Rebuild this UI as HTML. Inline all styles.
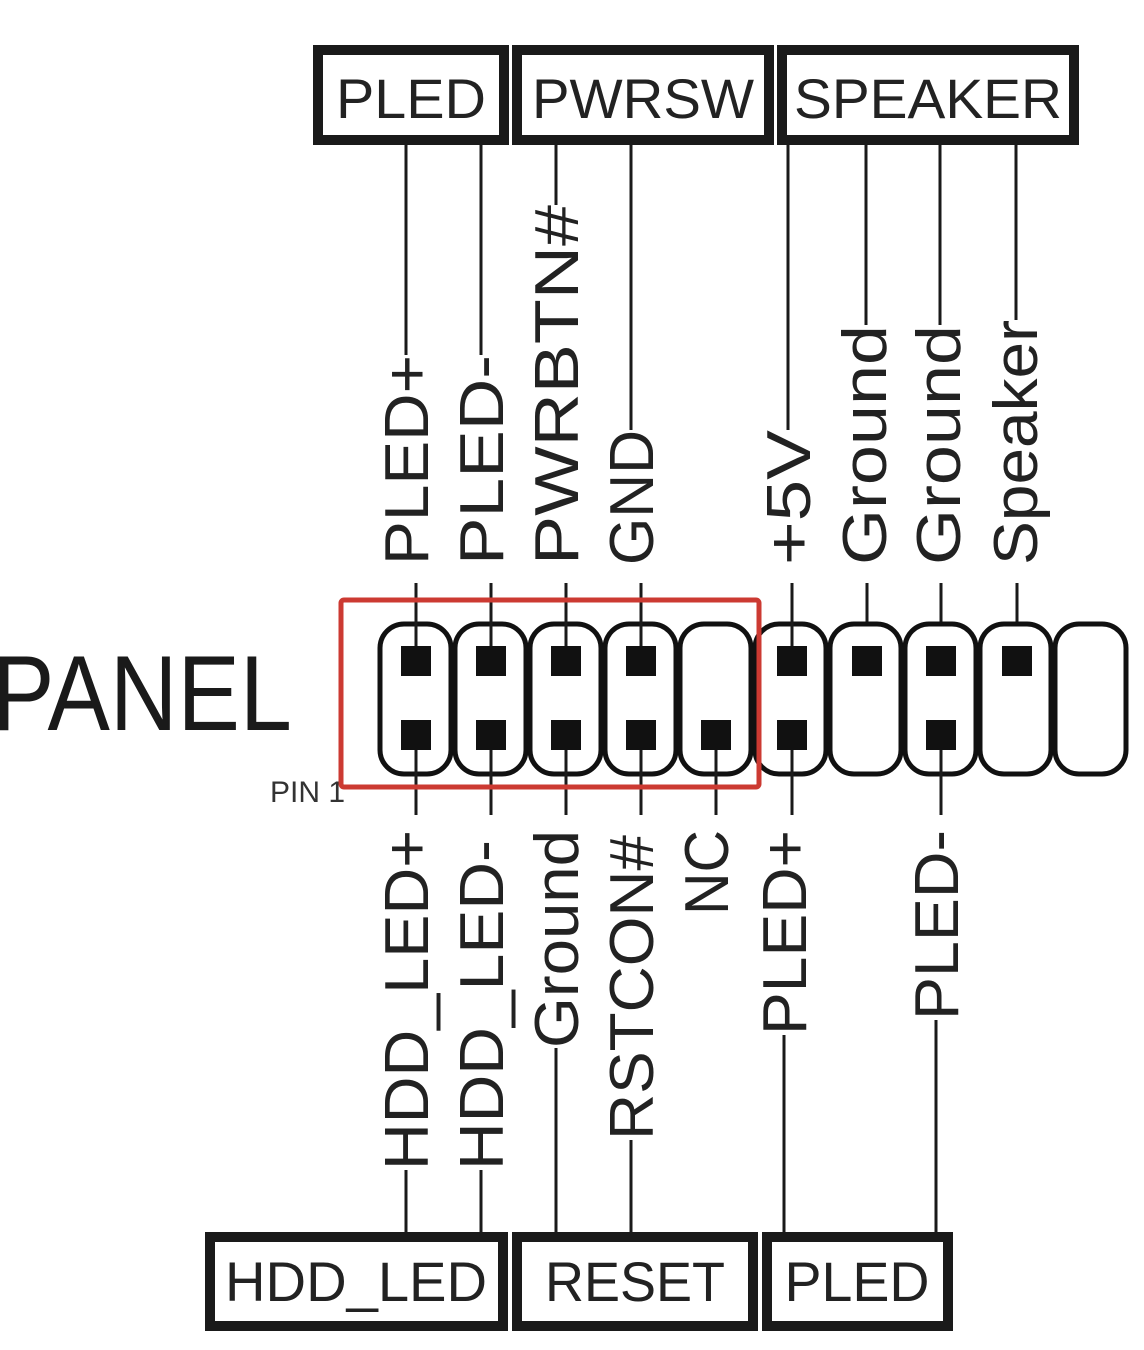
<!DOCTYPE html>
<html><head><meta charset="utf-8"><style>html,body{margin:0;padding:0;background:#fff}svg{display:block}</style></head>
<body>
<svg width="1144" height="1350" viewBox="0 0 1144 1350" xmlns="http://www.w3.org/2000/svg" font-family="Liberation Sans, sans-serif">
<rect width="1144" height="1350" fill="#fff"/>
<g fill="#fff" stroke="#1a1a1a" stroke-width="10">
<rect x="318" y="50" width="186" height="90"/>
<rect x="517" y="50" width="252" height="90"/>
<rect x="782" y="50" width="292" height="90"/>
<rect x="210" y="1237" width="293" height="89"/>
<rect x="517" y="1237" width="236" height="89"/>
<rect x="767" y="1237" width="181" height="89"/>
</g>
<g fill="#222" font-size="56">
<text x="411" y="118" text-anchor="middle" textLength="150" lengthAdjust="spacingAndGlyphs">PLED</text>
<text x="643" y="118" text-anchor="middle" textLength="222" lengthAdjust="spacingAndGlyphs">PWRSW</text>
<text x="928" y="118" text-anchor="middle" textLength="268" lengthAdjust="spacingAndGlyphs">SPEAKER</text>
<text x="356" y="1301" text-anchor="middle" textLength="262" lengthAdjust="spacingAndGlyphs">HDD_LED</text>
<text x="635" y="1301" text-anchor="middle" textLength="180" lengthAdjust="spacingAndGlyphs">RESET</text>
<text x="857" y="1301" text-anchor="middle" textLength="145" lengthAdjust="spacingAndGlyphs">PLED</text>
</g>
<g stroke="#1a1a1a" stroke-width="3" fill="none">
<path d="M406 145V355"/>
<path d="M481 145V355"/>
<path d="M556 145V205"/>
<path d="M631 145V430"/>
<path d="M788 145V430"/>
<path d="M866 145V325"/>
<path d="M940 145V325"/>
<path d="M1016 145V320"/>
<path d="M416 583V660M491 583V660M566 583V660M641 583V660M792 583V660M867 583V660M941 583V660M1017 583V660"/>
<path d="M416 737V815M491 737V815M566 737V815M641 737V815M716 737V815M792 737V815M941 737V815"/>
<path d="M406 1170V1237"/>
<path d="M481 1170V1237"/>
<path d="M556 1048V1237"/>
<path d="M631 1140V1237"/>
<path d="M784 1035V1237"/>
<path d="M936 1020V1237"/>
</g>
<g fill="#fff" stroke="#111" stroke-width="5">
<rect x="380" y="624" width="71" height="150" rx="24"/>
<rect x="455" y="624" width="71" height="150" rx="24"/>
<rect x="530" y="624" width="71" height="150" rx="24"/>
<rect x="605" y="624" width="71" height="150" rx="24"/>
<rect x="680" y="624" width="71" height="150" rx="24"/>
<rect x="755" y="624" width="71" height="150" rx="24"/>
<rect x="830" y="624" width="71" height="150" rx="24"/>
<rect x="905" y="624" width="71" height="150" rx="24"/>
<rect x="980" y="624" width="71" height="150" rx="24"/>
<rect x="1055" y="624" width="71" height="150" rx="24"/>
</g>
<g fill="#111">
<rect x="401" y="646" width="30" height="30"/><rect x="476" y="646" width="30" height="30"/>
<rect x="551" y="646" width="30" height="30"/><rect x="626" y="646" width="30" height="30"/>
<rect x="777" y="646" width="30" height="30"/><rect x="852" y="646" width="30" height="30"/>
<rect x="926" y="646" width="30" height="30"/><rect x="1002" y="646" width="30" height="30"/>
<rect x="401" y="720" width="30" height="30"/><rect x="476" y="720" width="30" height="30"/>
<rect x="551" y="720" width="30" height="30"/><rect x="626" y="720" width="30" height="30"/>
<rect x="701" y="720" width="30" height="30"/><rect x="777" y="720" width="30" height="30"/>
<rect x="926" y="720" width="30" height="30"/>
</g>
<g stroke="#1a1a1a" stroke-width="3">
<path d="M416 600V646M491 600V646M566 600V646M641 600V646M792 600V646"/>
<path d="M416 750V790M491 750V790M566 750V790M641 750V790M716 750V790M792 750V790M941 750V790"/>
</g>
<rect x="341" y="600" width="418" height="187" fill="none" stroke="#cc3a32" stroke-width="5" rx="3"/>
<text x="-8" y="730" font-size="107" fill="#1a1a1a" textLength="300" lengthAdjust="spacingAndGlyphs">PANEL</text>
<text x="270" y="802" font-size="30" fill="#333">PIN 1</text>
<g fill="#222" font-size="62">
<text transform="translate(428,565) rotate(-90)" textLength="210" lengthAdjust="spacingAndGlyphs">PLED+</text>
<text transform="translate(503,565) rotate(-90)" textLength="210" lengthAdjust="spacingAndGlyphs">PLED-</text>
<text transform="translate(578,565) rotate(-90)" textLength="360" lengthAdjust="spacingAndGlyphs">PWRBTN#</text>
<text transform="translate(653,565) rotate(-90)" textLength="135" lengthAdjust="spacingAndGlyphs">GND</text>
<text transform="translate(810,565) rotate(-90)" textLength="135" lengthAdjust="spacingAndGlyphs">+5V</text>
<text transform="translate(886,565) rotate(-90)" textLength="240" lengthAdjust="spacingAndGlyphs">Ground</text>
<text transform="translate(960,565) rotate(-90)" textLength="240" lengthAdjust="spacingAndGlyphs">Ground</text>
<text transform="translate(1037,565) rotate(-90)" textLength="245" lengthAdjust="spacingAndGlyphs">Speaker</text>
<text transform="translate(428,1170) rotate(-90)" textLength="340" lengthAdjust="spacingAndGlyphs">HDD_LED+</text>
<text transform="translate(503,1170) rotate(-90)" textLength="330" lengthAdjust="spacingAndGlyphs">HDD_LED-</text>
<text transform="translate(578,1048) rotate(-90)" textLength="218" lengthAdjust="spacingAndGlyphs">Ground</text>
<text transform="translate(653,1140) rotate(-90)" textLength="305" lengthAdjust="spacingAndGlyphs">RSTCON#</text>
<text transform="translate(728,915) rotate(-90)" textLength="85" lengthAdjust="spacingAndGlyphs">NC</text>
<text transform="translate(806,1035) rotate(-90)" textLength="205" lengthAdjust="spacingAndGlyphs">PLED+</text>
<text transform="translate(958,1020) rotate(-90)" textLength="190" lengthAdjust="spacingAndGlyphs">PLED-</text>
</g>
</svg>
</body></html>
